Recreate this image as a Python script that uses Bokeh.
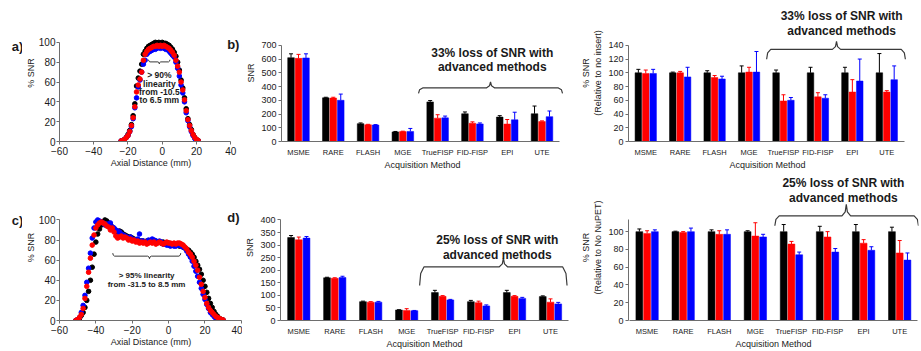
from bokeh.plotting import figure
from bokeh.layouts import row, column
from bokeh.models import Range1d, FixedTicker, Label, Whisker, TeeHead, ColumnDataSource
from bokeh.embed import file_html
from bokeh.resources import INLINE

# ---------------- data ----------------
methods = ["MSME", "RARE", "FLASH", "MGE", "TrueFISP", "FID-FISP", "EPI", "UTE"]

# panel a: axial SNR profile (% SNR vs axial distance, mm)
a_x = list(range(-24, 22))
a_black = [0.5, 1, 2, 4, 7, 11, 17, 26, 38, 56, 64, 71, 78, 88, 91, 94, 96, 97, 98, 99,
           100, 99, 100, 99, 100, 99, 99, 98, 97, 95, 93, 90, 86, 80, 72, 62, 54, 44, 33, 23,
           17, 12, 7, 4, 2, 1]
a_blue = [0.5, 1, 2, 4, 6, 10, 15, 23, 34, 44, 55, 62, 70, 78, 82, 88, 90, 91, 92, 93,
          93, 94, 95, 94, 95, 94, 93, 93, 91, 89, 87, 85, 80, 74, 66, 57, 49, 40, 29, 21,
          15, 10, 6, 3, 1.5, 0.5]
a_red = [0.5, 1, 2, 4, 6, 10, 16, 24, 35, 50, 57, 63, 70, 82, 88, 91, 93, 94, 95, 96,
         96, 97, 96, 97, 96, 97, 96, 95, 94, 92, 90, 87, 82, 76, 70, 60, 52, 42, 31, 22,
         16, 11, 7, 4, 2, 1]

# panel c: axial SNR profile
c_x = list(range(-51, 31))
c_black = [0, 1, 2, 5, 8, 13, 20, 29, 40, 53, 66, 78, 86, 91, 95, 98, 100, 99, 97, 95,
           93, 91, 89, 88, 89, 88, 86, 85, 84, 83, 83, 82, 81, 80, 80, 79, 79, 79, 78, 79,
           78, 79, 78, 78, 79, 78, 78, 77, 78, 77, 77, 77, 76, 76, 76, 75, 75, 74, 75, 73,
           72, 71, 70, 68, 66, 63, 59, 55, 51, 46, 40, 34, 28, 22, 17, 13, 9, 6, 4, 2, 1, 0.5]
c_blue = [0, 1, 3, 8, 15, 25, 38, 52, 67, 82, 92, 98, 100, 99, 98, 97, 95, 96, 94, 97,
          93, 92, 90, 89, 88, 86, 85, 84, 83, 82, 83, 81, 80, 80, 81, 86, 79, 79, 78, 78,
          80, 79, 81, 80, 79, 78, 79, 78, 76, 76, 75, 75, 74, 75, 74, 74, 75, 75, 74, 73,
          72, 69, 66, 63, 59, 54, 49, 44, 38, 32, 26, 21, 16, 12, 8, 6, 4, 2, 1, 0.5, 0, 0]
c_red = [0, 1, 3, 6, 12, 22, 34, 48, 62, 75, 85, 92, 95, 97, 98, 97, 96, 94, 93, 90,
         92, 88, 84, 82, 83, 84, 82, 83, 82, 80, 81, 79, 80, 78, 79, 77, 78, 77, 78, 76,
         77, 78, 77, 78, 76, 77, 78, 77, 76, 77, 78, 77, 77, 76, 77, 76, 77, 77, 76, 75,
         73, 71, 68, 66, 63, 59, 55, 50, 43, 36, 29, 23, 17, 13, 10, 8, 6, 4, 3, 2, 1, 0.5]

# panel b: SNR
b_black = [610, 318, 130, 70, 288, 202, 178, 202]
b_black_err = [28, 4, 5, 3, 10, 13, 10, 56]
b_red = [605, 316, 122, 72, 170, 133, 127, 145]
b_red_err = [29, 6, 3, 3, 25, 10, 33, 5]
b_blue = [608, 300, 120, 73, 172, 128, 158, 181]
b_blue_err = [30, 45, 3, 22, 13, 7, 55, 41]

# panel b (right): % SNR relative to no insert
e_black = [100, 100, 100, 100, 100, 100, 100, 100]
e_black_err = [5, 1, 3, 10, 4, 8, 8, 28]
e_red = [99, 100, 93, 101, 59, 65, 72, 72]
e_red_err = [5, 2, 3, 7, 9, 6, 18, 2]
e_blue = [99, 94, 91, 101, 60, 63, 88, 90]
e_blue_err = [6, 14, 4, 30, 4, 5, 32, 20]

# panel d: SNR
d_black = [330, 170, 75, 42, 111, 75, 111, 95]
d_black_err = [8, 2, 2, 1, 9, 5, 9, 3]
d_red = [321, 168, 73, 40, 96, 71, 96, 73]
d_red_err = [11, 2, 2, 7, 3, 6, 3, 13]
d_blue = [328, 171, 73, 39, 82, 58, 88, 66]
d_blue_err = [6, 5, 3, 1, 2, 4, 4, 6]

# panel d (right): % SNR relative to no NuPET
f_black = [100, 100, 100, 100, 100, 100, 100, 100]
f_black_err = [3, 0.5, 2, 1, 8, 6, 8, 5]
f_red = [98, 99, 97, 95, 86, 94, 87, 76]
f_red_err = [3, 1, 4, 15, 3, 6, 4, 14]
f_blue = [100, 100, 97, 94, 74, 77, 79, 68]
f_blue_err = [2, 4, 5, 3, 3, 4, 4, 8]

loss_b = ["33% loss of SNR with", "advanced methods"]
loss_d = ["25% loss of SNR with", "advanced methods"]
note_a = ["> 90%", "linearity", "from -10.5", "to 6.5 mm"]
note_c = ["> 95% linearity", "from -31.5 to 8.5 mm"]

# ---------------- style ----------------
FONT = "Liberation Sans"
TXT = "#1a1a1a"
AXC = "#6e6e6e"
COLORS = ["#000000", "#ff0000", "#0000ff"]
OFFS = [-0.215, 0.0, 0.215]
BAR_W = 0.19


def lin(m, q0, q1):
    v0, p0, v1, p1 = m
    k = (v1 - v0) / (p1 - p0)
    return (v0 + (q0 - p0) * k, v0 + (q1 - p0) * k)


def make_fig(W, H, frame, xmap, ymap):
    fl, fr, ft, fb = frame
    p = figure(width=W, height=H, x_range=Range1d(*lin(xmap, fl, fr)),
               y_range=Range1d(*lin(ymap, fb, ft)), output_backend="svg",
               toolbar_location=None, min_border_left=fl, min_border_right=W - fr,
               min_border_top=ft, min_border_bottom=H - fb)
    p.outline_line_color = None
    p.xgrid.visible = False
    p.ygrid.visible = False
    return p


def style_axes(p, tick_size, label_size):
    for ax in p.axis:
        ax.axis_line_color = AXC
        ax.major_tick_line_color = AXC
        ax.minor_tick_line_color = None
        ax.major_tick_in = 0
        ax.major_tick_out = 3
        ax.major_label_text_font = FONT
        ax.major_label_text_font_size = tick_size
        ax.major_label_text_color = TXT
        ax.axis_label_text_font = FONT
        ax.axis_label_text_font_size = label_size
        ax.axis_label_text_font_style = "normal"
        ax.axis_label_text_color = TXT
        ax.major_label_standoff = 2
        ax.axis_label_standoff = 2


def text(p, x, y, s, size, bold=True, color=TXT):
    p.add_layout(Label(x=x, y=y, text=s, text_font=FONT, text_font_size=size,
                       text_font_style="bold" if bold else "normal", text_color=color,
                       text_align="center", text_baseline="middle"))


def brace(p, x0, x1, xm, yh, yend, ypk, dx, color="#3a3a3a", width=1.2):
    e = yend - yh
    t = ypk - yh
    xs = [x0, x0 + 0.25 * dx, x0 + dx, xm - dx, xm - 0.25 * dx, xm,
          xm + 0.25 * dx, xm + dx, x1 - dx, x1 - 0.25 * dx, x1]
    ys = [yend, yh + 0.35 * e, yh, yh, yh + 0.35 * t, ypk,
          yh + 0.35 * t, yh, yh, yh + 0.35 * e, yend]
    p.line(xs, ys, line_color=color, line_width=width)


def label_fig(W, H, ft, fb, s, x, y):
    # a blank panel whose data units are pixels measured from its top-left corner
    p = figure(width=W, height=H, x_range=Range1d(0, W), y_range=Range1d(fb, ft),
               output_backend="svg", toolbar_location=None, min_border_left=0,
               min_border_right=0, min_border_top=ft, min_border_bottom=H - fb,
               x_axis_location=None, y_axis_location=None)
    p.outline_line_color = None
    p.xgrid.visible = False
    p.ygrid.visible = False
    text(p, x, y, s, "13px")
    return p


def scatter_panel(W, H, frame, xmap, ymap, x, series):
    p = make_fig(W, H, frame, xmap, ymap)
    p.xaxis.ticker = FixedTicker(ticks=list(range(-60, 41, 20)))
    p.yaxis.ticker = FixedTicker(ticks=list(range(0, 101, 20)))
    p.xaxis.bounds = (-60, 40)
    p.yaxis.bounds = (0, 100)
    p.xaxis.axis_label = "Axial Distance (mm)"
    p.yaxis.axis_label = "% SNR"
    style_axes(p, "10px", "9px")
    p.xaxis.major_label_standoff = 2
    p.xaxis.axis_label_standoff = 0
    p.yaxis.major_label_standoff = 1
    p.yaxis.axis_label_standoff = 0
    for y, c in series:
        p.scatter(x, y, size=4.6, fill_color=c, line_color=c)
    return p


def bar_panel(W, H, frame, xmap, ymap, series, yticks, ybound, ylabel):
    p = make_fig(W, H, frame, xmap, ymap)
    n = len(methods)
    p.xaxis.ticker = FixedTicker(ticks=list(range(n)))
    p.xaxis.major_label_overrides = {i: m for i, m in enumerate(methods)}
    p.xaxis.bounds = (-0.5, n - 0.5)
    p.yaxis.ticker = FixedTicker(ticks=yticks)
    p.yaxis.bounds = ybound
    p.xaxis.axis_label = "Acquisition Method"
    p.yaxis.axis_label = ylabel
    style_axes(p, "9px", "9px")
    p.xaxis.major_label_text_font_size = "7.5px"
    p.xaxis.major_tick_out = 0
    p.xaxis.major_label_standoff = 6
    p.xaxis.axis_label_standoff = 0
    for k, (vals, errs) in enumerate(series):
        c = COLORS[k]
        xs = [i + OFFS[k] for i in range(n)]
        ups = [v + e for v, e in zip(vals, errs)]
        src = ColumnDataSource(dict(x=xs, top=vals, up=ups))
        p.vbar(x="x", top="top", width=BAR_W, source=src, fill_color=c,
               line_color=c, line_width=0.5)
        p.add_layout(Whisker(source=src, base="x", lower="top", upper="up",
                             dimension="height", line_color=c, line_width=1,
                             upper_head=TeeHead(size=4, line_color=c, line_width=1),
                             lower_head=None))
    return p


# ---------------- panels ----------------
# every panel in a row shares the same top/bottom borders (Bokeh aligns them)
R1_H, R1_T, R1_B = 172, 4, 144
R2_H, R2_T, R2_B = 179, 2, 152

la = label_fig(22, R1_H, R1_T, R1_B, "a)", 17, 46.7)

pa = scatter_panel(220, R1_H, (32, 220, R1_T, R1_B), (-60, 32, 40, 207.9), (0, 144, 100, 42.7),
                   a_x, [(a_black, COLORS[0]), (a_blue, COLORS[2]), (a_red, COLORS[1])])
brace(pa, -8, 4.5, -1.7, 80.3, 82.5, 78.3, 0.8, width=1.0)
for s, yy in zip(note_a, [66.6, 58.4, 50.2, 42.0]):
    text(pa, -1.7, yy, s, "8.5px")
text(pa, 41.5, 97.7, "b)", "13px")

pb = bar_panel(336, R1_H, (39, 321, R1_T, R1_B), (0, 56, 7, 299.5), (0, 144, 700, 45.7),
               [(b_black, b_black_err), (b_red, b_red_err), (b_blue, b_blue_err)],
               list(range(0, 701, 100)), (0, 700), "SNR")
brace(pb, 3.45, 7.59, 5.52, 390, 350, 433, 0.12)
for s, yy in zip(loss_b, [646, 539]):
    text(pb, 5.57, yy, s, "12px")

pe = bar_panel(343, R1_H, (46, 328, R1_T, R1_B), (0, 63.5, 7, 308), (0, 144, 140, 45.7),
               [(e_black, e_black_err), (e_red, e_red_err), (e_blue, e_blue_err)],
               list(range(0, 141, 20)), (0, 140), "% SNR\n(Relative to no insert)")
brace(pe, 3.51, 7.54, 5.54, 134, 119.7, 145.7, 0.12)
for s, yy in zip(loss_b, [182, 161]):
    text(pe, 5.69, yy, s, "12px")

lc = label_fig(22, R2_H, R2_T, R2_B, "c)", 17, 49.7)

pc = scatter_panel(220, R2_H, (36, 220, R2_T, R2_B), (-60, 36, 40, 218.8), (0, 152, 100, 48.7),
                   c_x, [(c_black, COLORS[0]), (c_blue, COLORS[2]), (c_red, COLORS[1])])
brace(pc, -30.7, 6.7, -10.5, 64, 67, 61.5, 1.0, width=1.0)
for s, yy in zip(note_c, [44.8, 36.1]):
    text(pc, -12.1, yy, s, "8px")
text(pc, 35.7, 102.6, "d)", "13px")

pd_ = bar_panel(336, R2_H, (38, 326, R2_T, R2_B), (0, 56.3, 7, 308), (0, 152, 400, 48.7),
                [(d_black, d_black_err), (d_red, d_red_err), (d_blue, d_blue_err)],
                list(range(0, 401, 50)), (0, 400), "SNR")
brace(pd_, 3.36, 7.46, 5.69, 213, 139, 248, 0.12)
for s, yy in zip(loss_d, [318.6, 259.4]):
    text(pd_, 5.52, yy, s, "12px")

pf = bar_panel(343, R2_H, (47, 340, R2_T, R2_B), (0, 65.8, 7, 321), (0, 152, 100, 60.7),
               [(f_black, f_black_err), (f_red, f_red_err), (f_blue, f_blue_err)],
               list(range(0, 101, 20)), (0, 114), "% SNR\n(Relative to No NuPET)")
brace(pf, 3.54, 7.52, 5.52, 117.7, 106.6, 130.7, 0.12)
for s, yy in zip(loss_d, [155, 138]):
    text(pf, 5.44, yy, s, "12px")

layout = column(row(la, pa, pb, pe), row(lc, pc, pd_, pf))
open("out.html", "w").write(file_html(layout, INLINE))
